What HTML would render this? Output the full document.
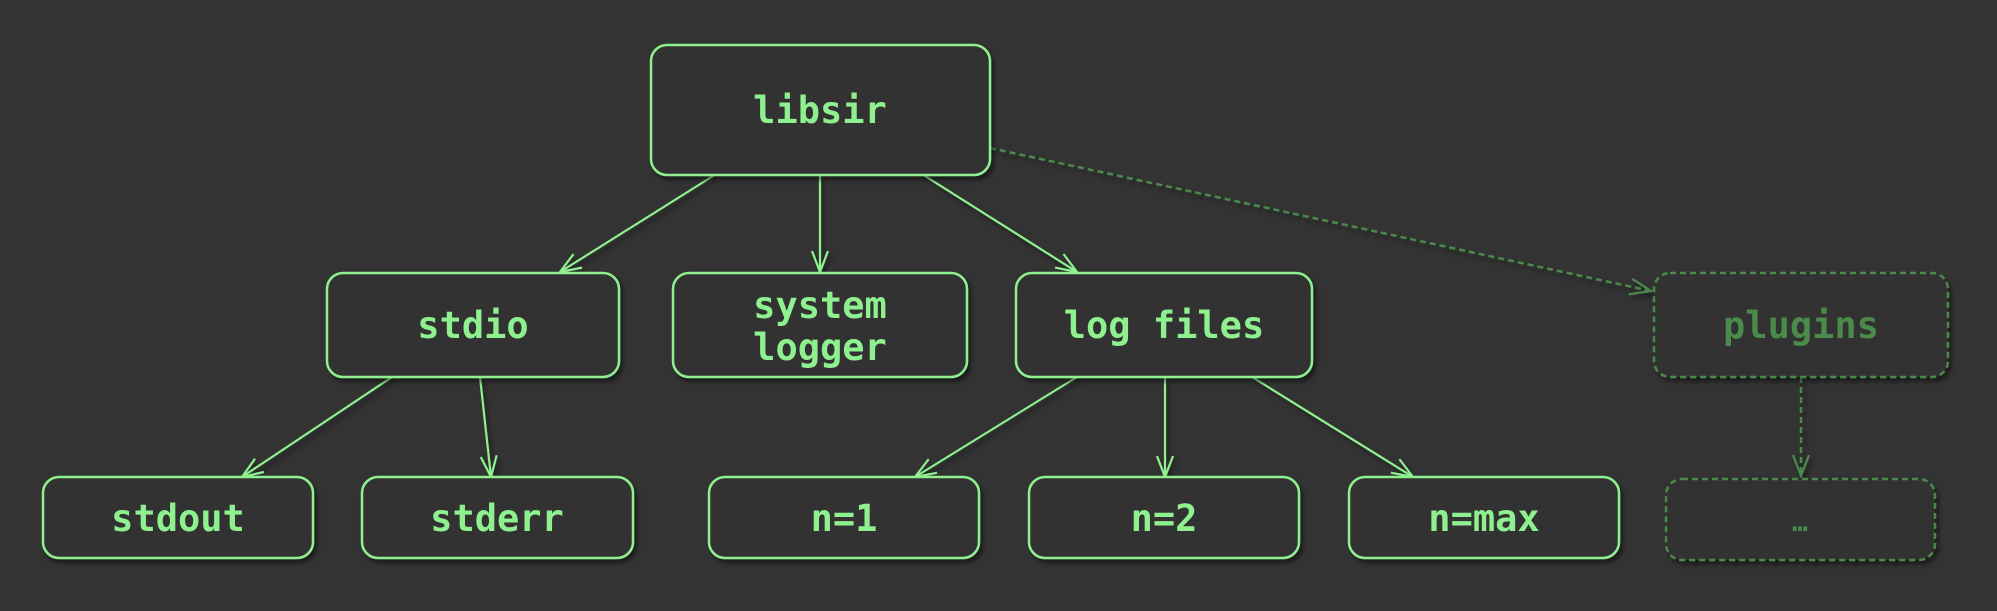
<!DOCTYPE html>
<html><head><meta charset="utf-8"><style>
html,body{margin:0;padding:0;background:#333333;}
svg{display:block}
text{font-family:"DejaVu Sans Mono","Liberation Mono",monospace;font-weight:bold;font-size:37px;text-anchor:middle;}
</style></head><body>
<svg width="1997" height="611" viewBox="0 0 1997 611" xmlns="http://www.w3.org/2000/svg">
<defs>
<filter id="sh" x="-10%" y="-10%" width="130%" height="140%"><feDropShadow dx="3" dy="4" stdDeviation="2" flood-color="#000" flood-opacity="0.45"/></filter>
<marker id="a" markerWidth="24" markerHeight="18" refX="22" refY="9" orient="auto" markerUnits="userSpaceOnUse"><path d="M1,1 L22,9 L1,17" fill="none" stroke="#8ef08e" stroke-width="2.2"/></marker>
<marker id="ad" markerWidth="24" markerHeight="18" refX="22" refY="9" orient="auto" markerUnits="userSpaceOnUse"><path d="M1,1 L22,9 L1,17" fill="none" stroke="#4a8a4a" stroke-width="2.2"/></marker>
</defs>
<g fill="none" stroke="#8ef08e" stroke-width="2.2" marker-end="url(#a)" filter="url(#sh)">
<line x1="713" y1="176" x2="560" y2="272"/>
<line x1="820" y1="176" x2="820" y2="272"/>
<line x1="925" y1="176" x2="1077" y2="272"/>
<line x1="392" y1="377" x2="242" y2="477"/>
<line x1="480" y1="377" x2="491" y2="477"/>
<line x1="1077" y1="377" x2="915" y2="477"/>
<line x1="1165" y1="377" x2="1165" y2="477"/>
<line x1="1252" y1="377" x2="1413" y2="477"/>
</g>
<g fill="none" stroke="#4a8a4a" stroke-width="2.5" stroke-dasharray="6,4" marker-end="url(#ad)" filter="url(#sh)">
<line x1="990" y1="148" x2="1651" y2="291"/>
<line x1="1801" y1="377" x2="1801" y2="476"/>
</g>
<g fill="#333333" stroke="#8ef08e" stroke-width="2.5" filter="url(#sh)">
<rect x="651" y="45" width="339" height="130" rx="16"/>
<rect x="327" y="273" width="292" height="104" rx="16"/>
<rect x="673" y="273" width="294" height="104" rx="16"/>
<rect x="1016" y="273" width="296" height="104" rx="16"/>
<rect x="43" y="477" width="270" height="81" rx="16"/>
<rect x="362" y="477" width="271" height="81" rx="16"/>
<rect x="709" y="477" width="270" height="81" rx="16"/>
<rect x="1029" y="477" width="270" height="81" rx="16"/>
<rect x="1349" y="477" width="270" height="81" rx="16"/>
</g>
<g fill="#333333" stroke="#4a8a4a" stroke-width="2.5" stroke-dasharray="6,4" filter="url(#sh)">
<rect x="1654" y="273" width="294" height="104" rx="16"/>
<rect x="1666" y="479" width="269" height="81" rx="16"/>
</g>
<g fill="#8ef08e">
<text x="820" y="123">libsir</text>
<text x="473" y="338">stdio</text>
<text x="820" y="318">system</text>
<text x="820" y="360">logger</text>
<text x="1164" y="338">log files</text>
<text x="178" y="531">stdout</text>
<text x="497" y="531">stderr</text>
<text x="844" y="531">n=1</text>
<text x="1164" y="531">n=2</text>
<text x="1484" y="531">n=max</text>
</g>
<g fill="#4a8a4a">
<text x="1801" y="338">plugins</text>
<text x="1800" y="531" style="font-size:26px">…</text>
</g>
</svg>
</body></html>
